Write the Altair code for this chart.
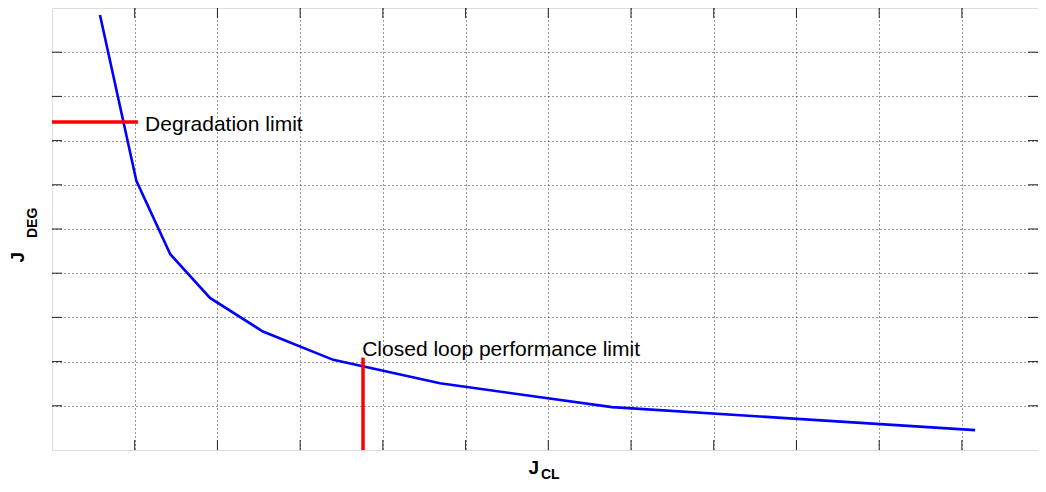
import altair as alt
import pandas as pd

# ---- data ----
curve_x = [0.58, 1.02, 1.43, 1.91, 2.55, 3.40, 4.69, 6.77, 11.16]
curve_y = [9.84, 6.09, 4.43, 3.44, 2.68, 2.04, 1.51, 0.97, 0.45]

x_grid = [1, 2, 3, 4, 5, 6, 7, 8, 9, 10, 11]
y_grid = [1, 2, 3, 4, 5, 6, 7, 8, 9]

limit_x = [0.0, 3.76]
limit_x2 = [1.04, 3.76]
limit_y = [7.42, 0.0]
limit_y2 = [7.42, 2.09]

label_text = ["Degradation limit", "Closed loop performance limit"]
label_x = [1.125, 3.75]
label_y = [7.21, 2.13]

x_title = ["J", "CL"]
y_title = ["J", "DEG"]

W, H = 986, 442
FONT = "Liberation Sans"

xs = alt.Scale(domain=[0, 11.92], nice=False, zero=False)
ys = alt.Scale(domain=[0, 10], nice=False, zero=False)

grid_axis_x = alt.Axis(values=x_grid, labels=False, ticks=False, domain=False, title=None,
                       grid=True, gridDash=[1, 3], gridColor="#333333", gridWidth=1)
grid_axis_y = alt.Axis(values=y_grid, labels=False, ticks=False, domain=False, title=None,
                       grid=True, gridDash=[1, 3], gridColor="#333333", gridWidth=1)

curve_df = pd.DataFrame({"x": curve_x, "y": curve_y, "i": list(range(len(curve_x)))})
curve = alt.Chart(curve_df).mark_line(color="#0000ff", strokeWidth=2.6).encode(
    x=alt.X("x:Q", scale=xs, axis=grid_axis_x),
    y=alt.Y("y:Q", scale=ys, axis=grid_axis_y),
    order="i:O",
)

xt_df = pd.DataFrame({"v": x_grid})
yt_df = pd.DataFrame({"v": y_grid})
tick_color = "#222222"
ticks_bottom = alt.Chart(xt_df).mark_rule(color=tick_color, strokeWidth=1).encode(
    x=alt.X("v:Q", scale=xs), y=alt.value(H - 10), y2=alt.value(H))
ticks_top = alt.Chart(xt_df).mark_rule(color=tick_color, strokeWidth=1).encode(
    x=alt.X("v:Q", scale=xs), y=alt.value(0), y2=alt.value(10))
ticks_left = alt.Chart(yt_df).mark_rule(color=tick_color, strokeWidth=1).encode(
    y=alt.Y("v:Q", scale=ys), x=alt.value(0), x2=alt.value(10))
ticks_right = alt.Chart(yt_df).mark_rule(color=tick_color, strokeWidth=1).encode(
    y=alt.Y("v:Q", scale=ys), x=alt.value(W - 10), x2=alt.value(W))

lim_df = pd.DataFrame({"x": limit_x, "x2": limit_x2, "y": limit_y, "y2": limit_y2})
limits = alt.Chart(lim_df).mark_rule(color="#ff0000", strokeWidth=3.5).encode(
    x=alt.X("x:Q", scale=xs), x2="x2:Q",
    y=alt.Y("y:Q", scale=ys), y2="y2:Q")

lab_df = pd.DataFrame({"t": label_text, "x": label_x, "y": label_y})
labels = alt.Chart(lab_df).mark_text(font=FONT, fontSize=21, align="left",
                                     baseline="alphabetic", color="black").encode(
    x=alt.X("x:Q", scale=xs), y=alt.Y("y:Q", scale=ys), text="t:N")

xt_main = alt.Chart(pd.DataFrame({"t": [x_title[0]]})).mark_text(
    font=FONT, fontSize=19, fontWeight="bold", align="right", baseline="alphabetic", color="black"
).encode(text="t:N", x=alt.value(487), y=alt.value(466))
xt_sub = alt.Chart(pd.DataFrame({"t": [x_title[1]]})).mark_text(
    font=FONT, fontSize=14, fontWeight="bold", align="left", baseline="alphabetic", color="black"
).encode(text="t:N", x=alt.value(489), y=alt.value(471))

yt_main = alt.Chart(pd.DataFrame({"t": [y_title[0]]})).mark_text(
    font=FONT, fontSize=19, fontWeight="bold", align="right", baseline="alphabetic",
    angle=270, color="black"
).encode(text="t:N", x=alt.value(-28), y=alt.value(244))
yt_sub = alt.Chart(pd.DataFrame({"t": [y_title[1]]})).mark_text(
    font=FONT, fontSize=14, fontWeight="bold", align="left", baseline="alphabetic",
    angle=270, color="black"
).encode(text="t:N", x=alt.value(-15), y=alt.value(230))

chart = alt.layer(
    curve, ticks_bottom, ticks_top, ticks_left, ticks_right, limits, labels,
    xt_main, xt_sub, yt_main, yt_sub
).properties(
    width=W, height=H,
    autosize=alt.AutoSizeParams(type="none"),
    padding={"left": 44, "top": 0, "right": 0, "bottom": 34},
).configure_view(
    stroke="black", strokeWidth=1
).configure(background="white")

chart.save("out.html", embed_options={"renderer": "svg", "actions": False})
